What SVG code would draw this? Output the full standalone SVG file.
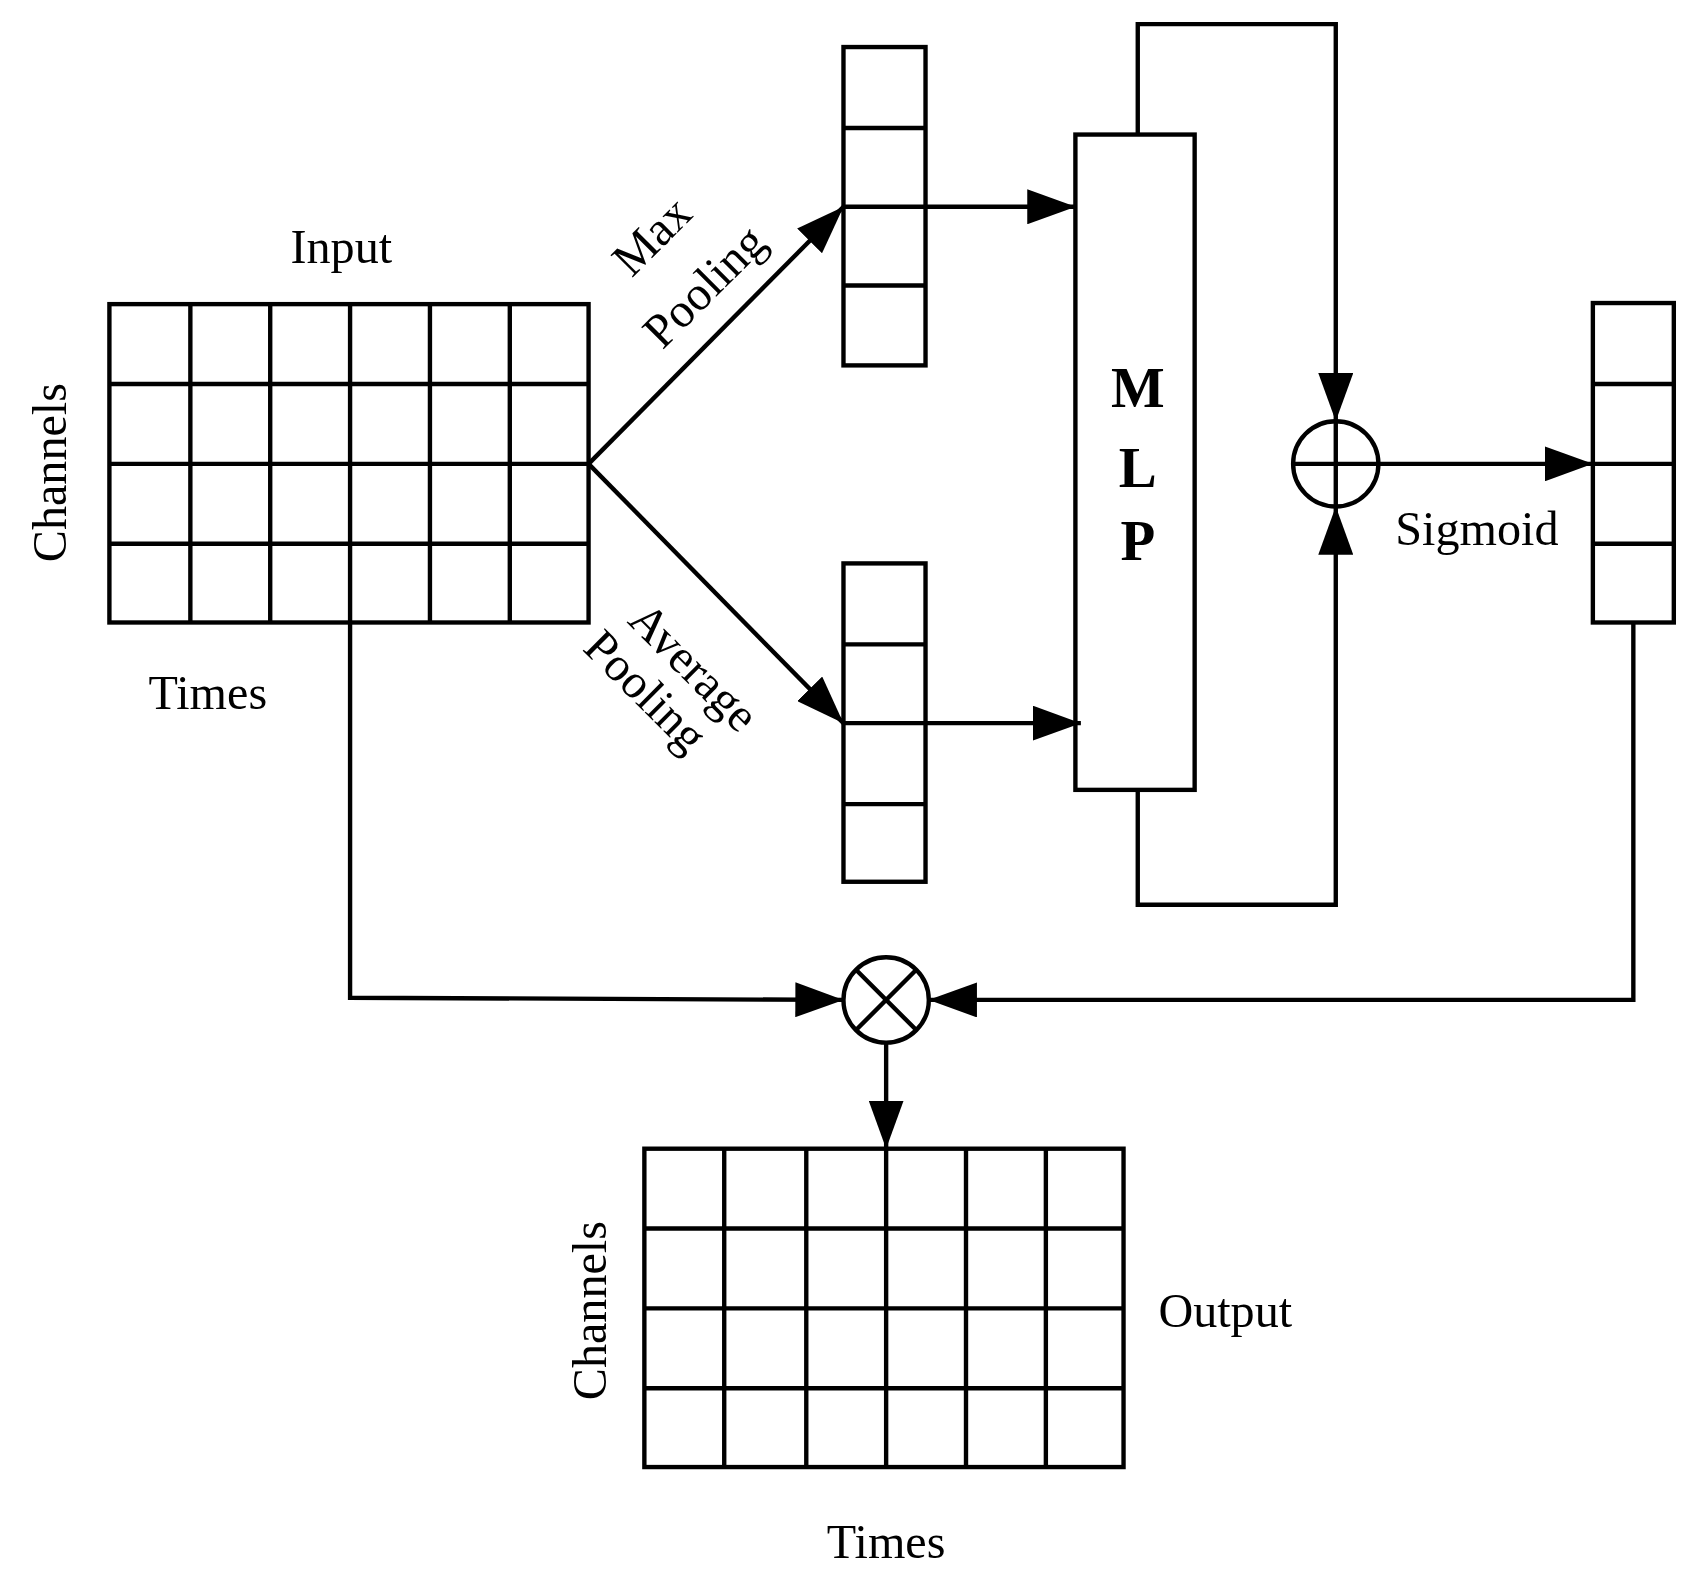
<svg xmlns="http://www.w3.org/2000/svg" width="1708" height="1571" viewBox="0 0 1708 1571">
<style>
.g{fill:none;stroke:#000;stroke-width:4}
.ln{fill:none;stroke:#000;stroke-width:4}
.t{font-family:"Liberation Serif",serif;font-size:44px;fill:#000;text-anchor:middle}
.b{font-family:"Liberation Serif",serif;font-size:52px;font-weight:bold;fill:#000;text-anchor:middle}
</style>
<defs>
<marker id="ah" viewBox="0 0 10 10" refX="10" refY="5" markerWidth="11" markerHeight="11" markerUnits="userSpaceOnUse" orient="auto"><path d="M0,0 L10,5 L0,10 z" fill="#000"/></marker>
<marker id="a" viewBox="0 0 44 32" refX="44" refY="16" markerWidth="44" markerHeight="32" markerUnits="userSpaceOnUse" orient="auto"><path d="M0,0 L44,16 L0,32 z" fill="#000"/></marker>
</defs>
<rect width="1708" height="1571" fill="#fff"/>
<g transform="scale(1.094)">
<g id="input">
<rect x="100" y="278" width="438" height="291" fill="#fff" class="g"/>
<path class="g" d="M174,278V569M247,278V569M320,278V569M393,278V569M466,278V569M100,351H538M100,424H538M100,497H538"/>
<text class="t" x="312" y="240">Input</text>
<text class="t" x="190" y="648">Times</text>
<text class="t" transform="translate(60,432) rotate(-90)">Channels</text>
</g>
<g id="maxvec">
<rect x="771" y="43" width="75" height="291" fill="#fff" class="g"/>
<path class="g" d="M771,117H846M771,189H846M771,261H846"/>
</g>
<g id="avgvec">
<rect x="771" y="515" width="75" height="291" fill="#fff" class="g"/>
<path class="g" d="M771,589H846M771,661H846M771,735H846"/>
</g>
<g id="mlp">
<rect x="983" y="123" width="109" height="599" fill="#f0f0f0" class="g"/>
<text class="b" x="1040" y="372">M</text>
<text class="b" x="1040" y="445">L</text>
<text class="b" x="1040" y="512">P</text>
</g>
<g id="add">
<circle cx="1221" cy="424" r="39" fill="#fff" class="g"/>
<path class="g" d="M1182,424H1260M1221,385V463"/>
</g>
<g id="sigvec">
<rect x="1456" y="277" width="74" height="292" fill="#d8dde3" class="g"/>
<path class="g" d="M1456,351H1530M1456,424H1530M1456,497H1530"/>
<text class="t" x="1350" y="498">Sigmoid</text>
</g>
<g id="mul">
<circle cx="810" cy="914" r="39" fill="#fff" class="g"/>
<path class="g" d="M782,886L838,942M838,886L782,942"/>
</g>
<g id="output">
<rect x="589" y="1050" width="438" height="291" fill="#d8dde3" class="g"/>
<path class="g" d="M662,1050V1341M737,1050V1341M810,1050V1341M883,1050V1341M956,1050V1341M589,1123H1027M589,1196H1027M589,1269H1027"/>
<text class="t" x="1120" y="1213">Output</text>
<text class="t" x="810" y="1424">Times</text>
<text class="t" transform="translate(554,1198) rotate(-90)">Channels</text>
</g>
<g id="labels">
<text class="t" transform="translate(606,226) rotate(-45)">Max</text>
<text class="t" transform="translate(654,272) rotate(-45)">Pooling</text>
<text class="t" transform="translate(624,620) rotate(45)">Average</text>
<text class="t" transform="translate(580,642) rotate(45)">Pooling</text>
</g>
<g id="connectors">
<path class="ln" d="M538,424L771,189" marker-end="url(#a)"/>
<path class="ln" d="M538,424L771,661" marker-end="url(#a)"/>
<path class="ln" d="M846,189H983" marker-end="url(#a)"/>
<path class="ln" d="M846,661H988" marker-end="url(#a)"/>
<path class="ln" d="M1040,123V22H1221V385" marker-end="url(#a)"/>
<path class="ln" d="M1040,722V827H1221V463" marker-end="url(#a)"/>
<path class="ln" d="M1260,424H1456" marker-end="url(#a)"/>
<path class="ln" d="M1493,569V914H849" marker-end="url(#a)"/>
<path class="ln" d="M320,569V912L771,914" marker-end="url(#a)"/>
<path class="ln" d="M810,953V1050" marker-end="url(#a)"/>
</g>
</g>
</svg>
